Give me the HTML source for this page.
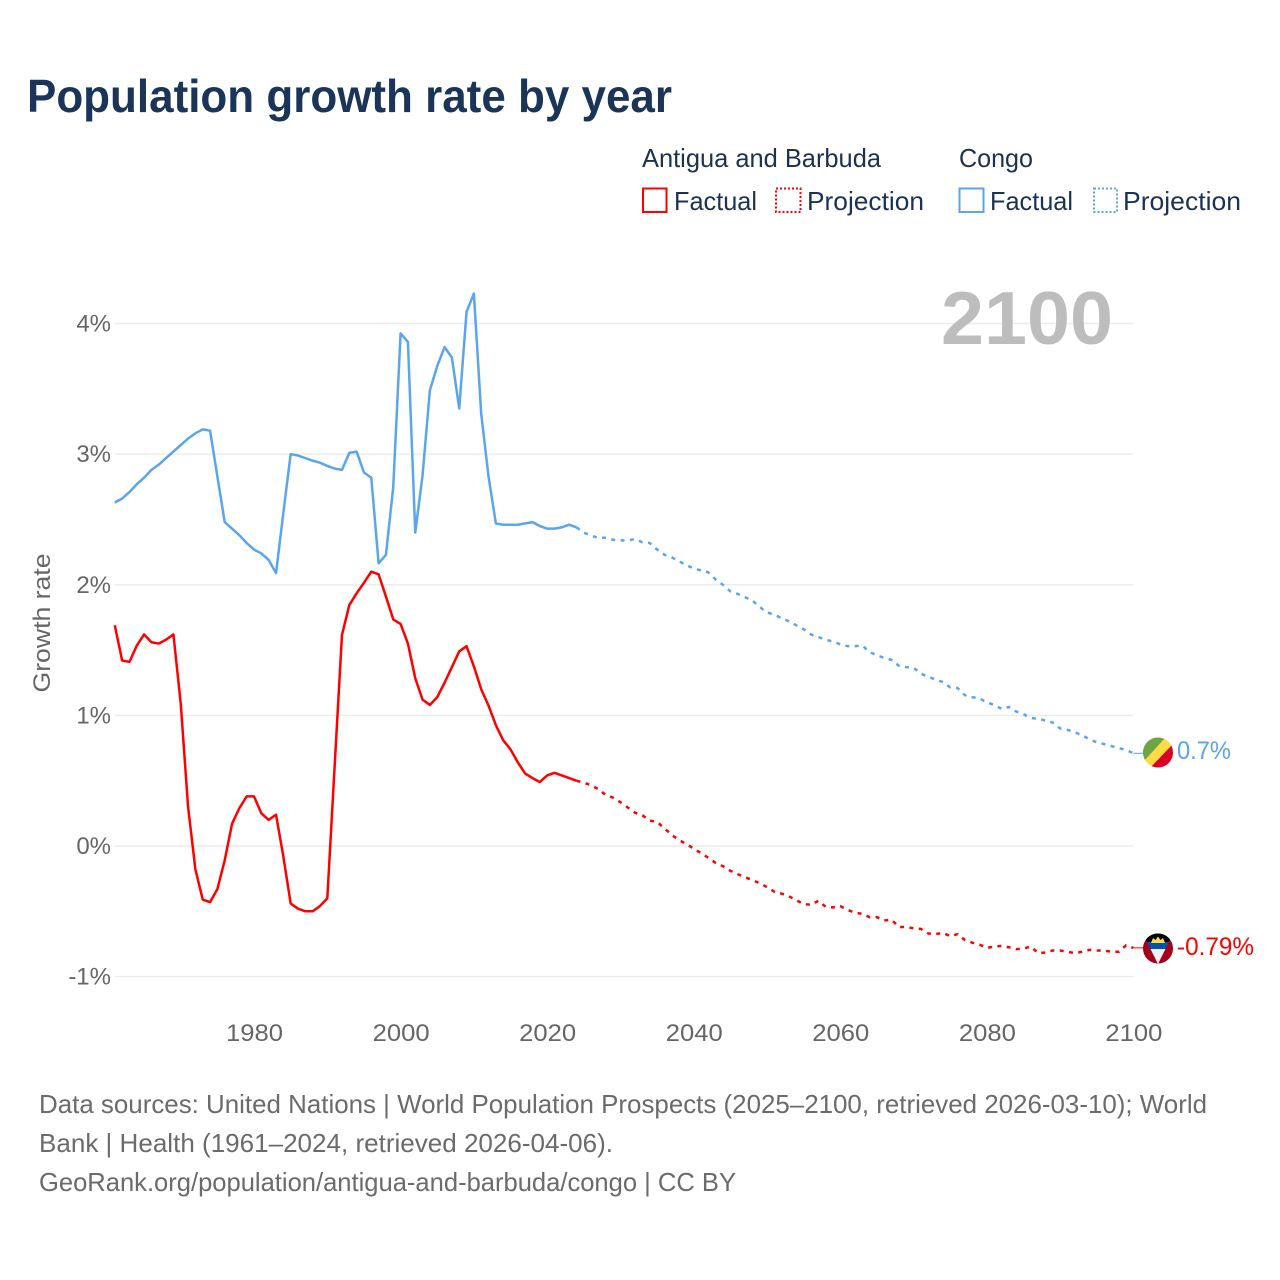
<!DOCTYPE html>
<html lang="en">
<head>
<meta charset="utf-8">
<title>Population growth rate by year</title>
<style>
html,body{margin:0;padding:0;background:#fff;}
svg{display:block;font-family:"Liberation Sans",sans-serif;}
</style>
</head>
<body>
<svg id="chart" width="1280" height="1280" viewBox="0 0 1280 1280" xmlns="http://www.w3.org/2000/svg">
  <rect width="1280" height="1280" fill="#fff"/>
  <text x="27" y="112" font-size="46" font-weight="700" fill="#1a3557" textLength="645" lengthAdjust="spacingAndGlyphs">Population growth rate by year</text>

  <g font-size="26" fill="#1c3252">
    <text x="642" y="167" textLength="239" lengthAdjust="spacingAndGlyphs">Antigua and Barbuda</text>
    <text x="959" y="167" textLength="74" lengthAdjust="spacingAndGlyphs">Congo</text>
    <rect x="643" y="188.5" width="23.5" height="23.5" fill="none" stroke="#ff0000" stroke-width="2"/>
    <text x="674" y="210" textLength="83" lengthAdjust="spacingAndGlyphs">Factual</text>
    <rect x="776" y="188.5" width="24.5" height="23.5" fill="none" stroke="#ff0000" stroke-width="2" stroke-dasharray="2 2"/>
    <text x="807" y="210" textLength="117" lengthAdjust="spacingAndGlyphs">Projection</text>
    <rect x="959.5" y="188.5" width="24" height="23.5" fill="none" stroke="#5ba4ee" stroke-width="2"/>
    <text x="990" y="210" textLength="83" lengthAdjust="spacingAndGlyphs">Factual</text>
    <rect x="1094" y="188.5" width="23" height="23.5" fill="none" stroke="#5ba4ee" stroke-width="2" stroke-dasharray="2 2"/>
    <text x="1123" y="210" textLength="118" lengthAdjust="spacingAndGlyphs">Projection</text>
  </g>

  <g id="grid"></g>
  <g id="yLabels"></g>
  <g id="xLabels"></g>
  <text transform="translate(50 623) rotate(-90)" text-anchor="middle" font-size="24" fill="#666" textLength="139" lengthAdjust="spacingAndGlyphs">Growth rate</text>
  <text x="941" y="344" font-size="75" font-weight="700" fill="#bdbdbd" textLength="172" lengthAdjust="spacingAndGlyphs">2100</text>

  <g id="series"></g>

  <defs>
    <clipPath id="clipCongo"><circle cx="1158" cy="752.5" r="15"/></clipPath>
    <clipPath id="clipAntigua"><circle cx="1158" cy="948.5" r="15"/></clipPath>
    <clipPath id="clipTri"><polygon points="1141,930 1175,930 1158,964"/></clipPath>
  </defs>

  <g clip-path="url(#clipCongo)">
    <rect x="1143" y="737" width="30" height="31" fill="#ffda44"/>
    <polygon points="1143,737 1166,737 1143,762" fill="#6da544"/>
    <polygon points="1173,744 1173,768 1150,768" fill="#d80027"/>
  </g>
  <g clip-path="url(#clipAntigua)">
    <rect x="1143" y="933" width="30" height="31" fill="#a2001d"/>
    <g clip-path="url(#clipTri)">
      <rect x="1141" y="930" width="34" height="12" fill="#000"/>
      <rect x="1141" y="942" width="34" height="7" fill="#0052b4"/>
      <rect x="1141" y="949" width="34" height="16" fill="#f0f0f0"/>
    </g>
    <polygon points="1151,943 1153,938 1155.5,940 1158,936.5 1160.5,940 1163,938 1165,943" fill="#ffda44"/>
  </g>

  <text x="1177" y="759" font-size="25" fill="#5ba4ee" textLength="54" lengthAdjust="spacingAndGlyphs">0.7%</text>
  <text x="1177" y="955" font-size="25" fill="#ff0000" textLength="77" lengthAdjust="spacingAndGlyphs">-0.79%</text>

  <g font-size="26" fill="#6b6b6b">
    <text x="39" y="1113" textLength="1168" lengthAdjust="spacingAndGlyphs">Data sources: United Nations | World Population Prospects (2025–2100, retrieved 2026-03-10); World</text>
    <text x="39" y="1152" textLength="574" lengthAdjust="spacingAndGlyphs">Bank | Health (1961–2024, retrieved 2026-04-06).</text>
    <text x="39" y="1191" textLength="697" lengthAdjust="spacingAndGlyphs">GeoRank.org/population/antigua-and-barbuda/congo | CC BY</text>
  </g>
</svg>

<script>
var factualStartYear = 1961;
var projectionStartYear = 2025;
var lastYear = 2100;
var yTicks = [-1, 0, 1, 2, 3, 4];
var xTicks = [1980, 2000, 2020, 2040, 2060, 2080, 2100];

var congoFactual = [2.63,2.66,2.71,2.77,2.82,2.88,2.92,2.97,3.02,3.07,3.12,3.16,3.19,3.18,2.83,2.48,2.43,2.38,2.32,2.27,2.24,2.19,2.09,2.55,3.00,2.99,2.97,2.95,2.935,2.91,2.89,2.88,3.01,3.02,2.86,2.82,2.165,2.23,2.75,3.925,3.86,2.40,2.84,3.49,3.675,3.82,3.74,3.35,4.09,4.23,3.31,2.83,2.47,2.46,2.46,2.46,2.47,2.48,2.45,2.43,2.43,2.44,2.46,2.44];
var congoProjection = [2.40,2.376,2.36,2.36,2.345,2.34,2.34,2.35,2.325,2.32,2.27,2.23,2.21,2.18,2.15,2.125,2.11,2.095,2.04,2.00,1.95,1.93,1.905,1.88,1.83,1.79,1.77,1.745,1.72,1.69,1.66,1.62,1.60,1.58,1.565,1.545,1.53,1.53,1.535,1.485,1.46,1.44,1.425,1.38,1.37,1.365,1.32,1.295,1.275,1.255,1.215,1.21,1.155,1.14,1.13,1.10,1.08,1.05,1.065,1.03,1.01,0.98,0.975,0.96,0.945,0.90,0.89,0.87,0.85,0.815,0.795,0.78,0.765,0.75,0.735,0.71];

var antiguaFactual = [1.69,1.42,1.41,1.535,1.62,1.56,1.55,1.58,1.62,1.09,0.30,-0.18,-0.41,-0.43,-0.33,-0.11,0.17,0.29,0.38,0.38,0.25,0.20,0.24,-0.08,-0.44,-0.48,-0.50,-0.50,-0.46,-0.40,0.61,1.615,1.845,1.935,2.015,2.10,2.08,1.91,1.735,1.70,1.55,1.285,1.12,1.08,1.14,1.25,1.37,1.49,1.53,1.375,1.20,1.075,0.925,0.81,0.74,0.64,0.555,0.52,0.49,0.54,0.56,0.54,0.52,0.50];
var antiguaProjection = [0.485,0.465,0.435,0.39,0.37,0.335,0.295,0.255,0.235,0.195,0.185,0.135,0.085,0.045,0.015,-0.02,-0.055,-0.09,-0.13,-0.155,-0.19,-0.215,-0.24,-0.26,-0.285,-0.315,-0.35,-0.365,-0.385,-0.415,-0.445,-0.45,-0.42,-0.465,-0.47,-0.46,-0.49,-0.51,-0.52,-0.545,-0.545,-0.57,-0.565,-0.62,-0.62,-0.63,-0.635,-0.67,-0.675,-0.665,-0.69,-0.675,-0.72,-0.74,-0.755,-0.78,-0.77,-0.765,-0.775,-0.79,-0.785,-0.77,-0.82,-0.815,-0.80,-0.80,-0.81,-0.82,-0.81,-0.795,-0.80,-0.80,-0.81,-0.81,-0.76,-0.78];

var SVG_NS = 'http://www.w3.org/2000/svg';
function xScale(year) { return 114.8 + (year - 1961) * 7.328; }
function yScale(v) { return 846 - v * 130.6; }

function linePath(startYear, values, prefix) {
  var d = prefix || '';
  for (var i = 0; i < values.length; i++) {
    d += (d ? 'L' : 'M') + xScale(startYear + i).toFixed(2) + ' ' + yScale(values[i]).toFixed(2);
  }
  return d;
}

var gridGroup = document.getElementById('grid');
var yLabelGroup = document.getElementById('yLabels');
yTicks.forEach(function (t) {
  var line = document.createElementNS(SVG_NS, 'line');
  
  
  line.setAttribute('x1', xScale(1961));
  line.setAttribute('x2', xScale(2100));
  line.setAttribute('y1', yScale(t));
  line.setAttribute('y2', yScale(t));
  line.setAttribute('stroke', '#ebebeb');
  line.setAttribute('stroke-width', '1.4');
  gridGroup.appendChild(line);

  var label = document.createElementNS(SVG_NS, 'text');
  
  
  label.setAttribute('x', '111');
  label.setAttribute('y', yScale(t) + 8);
  label.setAttribute('text-anchor', 'end');
  label.setAttribute('font-size', '24');
  label.setAttribute('fill', '#666');
  label.textContent = t + '%';
  yLabelGroup.appendChild(label);
});

var xLabelGroup = document.getElementById('xLabels');
xTicks.forEach(function (t) {
  var label = document.createElementNS(SVG_NS, 'text');
  
  
  label.setAttribute('x', xScale(t) + 0.5);
  label.setAttribute('y', '1041');
  label.setAttribute('text-anchor', 'middle');
  label.setAttribute('font-size', '24');
  label.setAttribute('fill', '#666');
  label.setAttribute('textLength', '57');
  label.setAttribute('lengthAdjust', 'spacingAndGlyphs');
  label.textContent = t;
  xLabelGroup.appendChild(label);
});

var seriesGroup = document.getElementById('series');
function addLine(name, d, color, dash) {
  var p = document.createElementNS(SVG_NS, 'path');
  
  
  p.setAttribute('d', d);
  p.setAttribute('fill', 'none');
  p.setAttribute('stroke', color);
  p.setAttribute('stroke-width', '2.5');
  p.setAttribute('stroke-linejoin', 'round');
  if (dash) { p.setAttribute('stroke-dasharray', dash); }
  seriesGroup.appendChild(p);
}
function lastOf(arr) { return arr[arr.length - 1]; }

addLine('line-congo-factual', linePath(factualStartYear, congoFactual), '#5ba4ee');
addLine('line-congo-projection', linePath(projectionStartYear, congoProjection, 'M' + xScale(2024) + ' ' + yScale(lastOf(congoFactual))), '#5ba4ee', '4 5.4');
addLine('line-antigua-factual', linePath(factualStartYear, antiguaFactual), '#ff0000');
addLine('line-antigua-projection', linePath(projectionStartYear, antiguaProjection, 'M' + xScale(2024) + ' ' + yScale(lastOf(antiguaFactual))), '#ff0000', '4 5.4');

function addConnector(name, value, color) {
  var c = document.createElementNS(SVG_NS, 'line');
  
  
  c.setAttribute('x1', xScale(lastYear));
  c.setAttribute('x2', '1144');
  c.setAttribute('y1', yScale(value));
  c.setAttribute('y2', yScale(value));
  c.setAttribute('stroke', color);
  c.setAttribute('stroke-width', '1');
  seriesGroup.appendChild(c);
}
addConnector('connector-congo', lastOf(congoProjection), '#5ba4ee');
addConnector('connector-antigua', lastOf(antiguaProjection), '#ff0000');
</script>
</body>
</html>
